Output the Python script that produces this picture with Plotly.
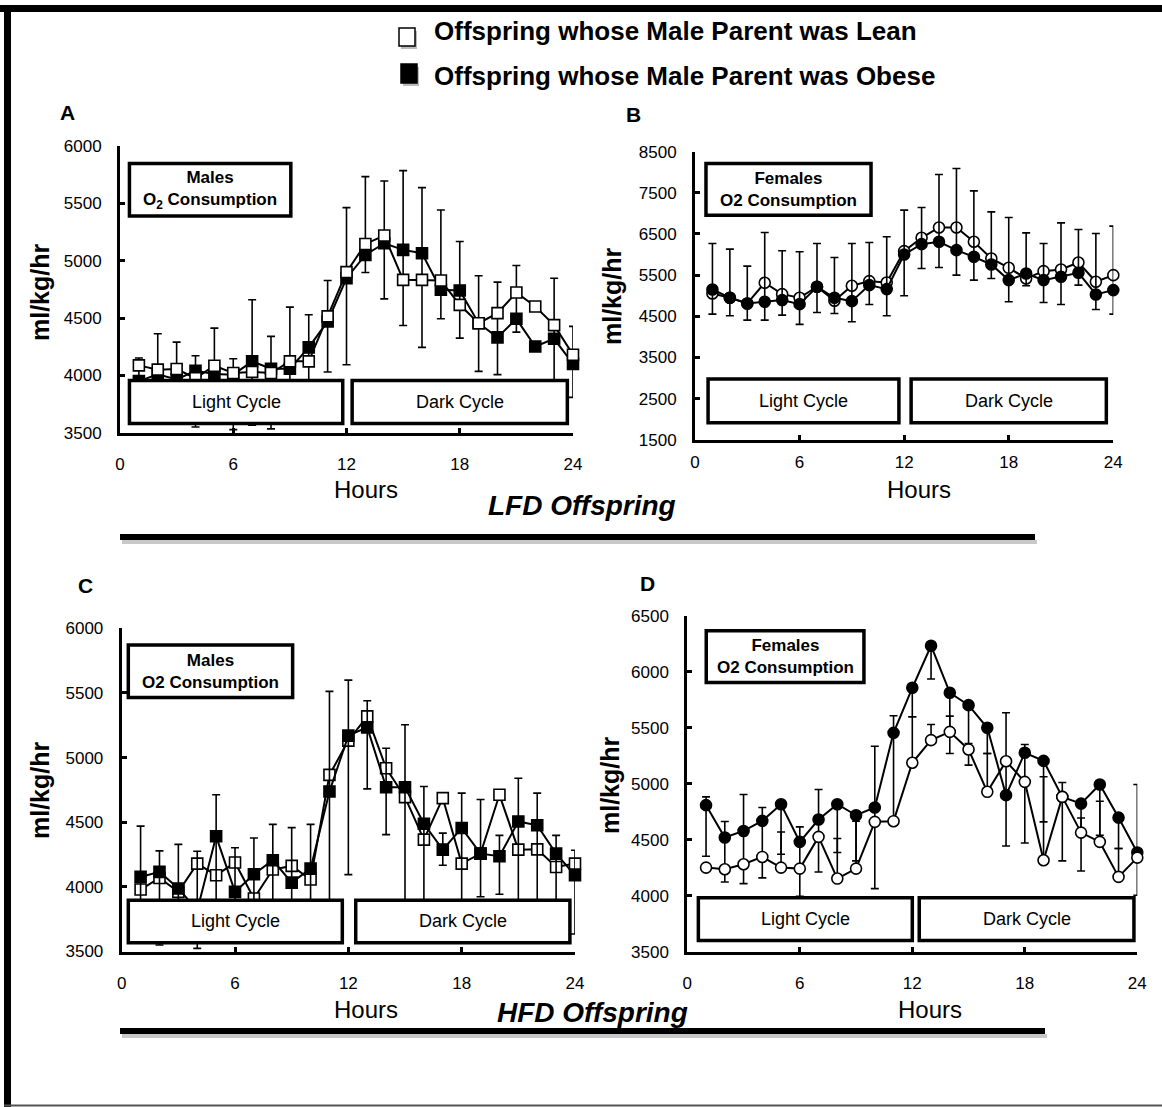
import plotly.graph_objects as go

W, H = 1162, 1107
FONT = "Liberation Sans"

# ---------------- data ----------------
hours = list(range(1, 25))
x_ticks = [0, 6, 12, 18, 24]

# Panel A: LFD males (squares)
lean_A = [4087, 4050, 4055, 3975, 4084, 4020, 4030, 4020, 4122, 4122, 4514, 4900,
          5146, 5219, 4833, 4833, 4827, 4615, 4455, 4543, 4722, 4601, 4438, 4180]
obese_A = [3950, 4010, 3965, 4040, 4012, 4006, 4122, 4058, 4058, 4244, 4470, 4847,
           5050, 5152, 5094, 5065, 4746, 4740, 4455, 4331, 4493, 4252, 4319, 4099]
obese_A_err_up = [201, 353, 325, 131, 400, 139, 537, 282, 537, 284, 357, 616,
                  683, 543, 691, 572, 696, 427, 413, 482, 465, 0, 528, 328]
obese_A_err_dn = [0, 100, 100, 490, 100, 479, 557, 525, 150, 300, 441, 754,
                  153, 485, 659, 821, 253, 415, 420, 325, 116, 0, 500, 291]

# Panel B: LFD females (circles)
lean_B = [5055, 4950, 4812, 5314, 5038, 4950, 5217, 4876, 5241, 5354, 5322, 6083,
          6407, 6658, 6658, 6310, 5905, 5678, 5419, 5597, 5638, 5808, 5338, 5500]
obese_B = [5152, 4950, 4812, 4852, 4893, 4795, 5217, 4950, 4868, 5257, 5160, 6002,
           6253, 6310, 6107, 5945, 5759, 5379, 5540, 5379, 5460, 5557, 5030, 5136]
obese_B_err_up = [1117, 1182, 907, 1684, 1198, 1272, 1052, 979, 1401, 1037, 1271, 1077,
                  891, 1635, 1984, 1604, 1279, 1522, 988, 890, 1311, 1052, 1482, 1554]
obese_B_err_dn = [599, 438, 405, 445, 365, 493, 624, 381, 502, 470, 648, 1004,
                  591, 624, 607, 566, 340, 527, 299, 543, 673, 300, 364, 583]

# Panel C: HFD males (squares)
lean_C = [3979, 4069, 3961, 4180, 4090, 4188, 3910, 4134, 4162, 4057, 4866, 5131,
          5319, 4918, 4694, 4365, 4686, 4180, 4257, 4712, 4288, 4290, 4154, 4180]
obese_C = [4077, 4116, 3987, 3820, 4391, 3961, 4098, 4206, 4033, 4141, 4738, 5170,
           5234, 4771, 4771, 4488, 4288, 4455, 4257, 4237, 4506, 4476, 4257, 4090]
obese_C_err_up = [393, 162, 342, 455, 321, 342, 280, 277, 425, 342, 774, 429,
                  206, 301, 483, 288, 128, 270, 419, 161, 334, 249, 141, 193]
obese_C_err_dn = [277, 566, 187, 296, 591, 161, 298, 406, 233, 341, 1038, 1075,
                  476, 367, 1071, 788, 121, 755, 334, 294, 706, 676, 457, 455]

# Panel D: HFD females (circles)
lean_D = [4253, 4238, 4283, 4348, 4253, 4244, 4527, 4155, 4244, 4661, 4667, 5188,
          5390, 5464, 5307, 4929, 5202, 5018, 4318, 4884, 4565, 4482, 4170, 4342]
obese_D = [4810, 4521, 4580, 4670, 4818, 4482, 4682, 4818, 4720, 4789, 5455, 5857,
           6232, 5813, 5702, 5500, 4899, 5277, 5205, 4884, 4824, 4994, 4699, 4387]
obese_D_err_up = [74, 143, 325, 119, 0, 134, 267, 0, 0, 547, 152, 0,
                  0, 0, 0, 0, 735, 74, 0, 128, 0, 0, 0, 607]
obese_D_err_dn = [456, 396, 470, 509, 446, 485, 468, 431, 407, 724, 788, 259,
                  297, 542, 535, 229, 453, 804, 544, 571, 601, 452, 276, 381]
lean_D_err_up = [0, 0, 0, 0, 318, 0, 0, 357, 423, 0, 0, 410,
                 140, 140, 53, 342, 0, 0, 745, 0, 131, 363, 253, 0]

legend_labels = ["Offspring whose Male Parent was Lean",
                 "Offspring whose Male Parent was Obese"]

# ---------------- layout helpers ----------------
def px(x):
    return x / W


def py(y):
    return 1 - y / H


panels = [
    dict(letter="A", lean=lean_A, obese=obese_A, up=obese_A_err_up, dn=obese_A_err_dn,
         lean_up=None, symbol="square", lean_on_top=True, xstand=14,
         xd=(120, 573), yd=(146, 432.7), yr=(3500, 6000), dtick=500,
         title="Males<br>O<sub>2</sub> Consumption",
         tbox=(0.5, 9.05, 5390, 5848), light=(0.5, 11.8, 3580, 3956), dark=(12.3, 23.7, 3580, 3956),
         letter_pos=(67, 112), ylab_pos=(40, 292), hours_pos=(366, 489)),
    dict(letter="B", lean=lean_B, obese=obese_B, up=obese_B_err_up, dn=obese_B_err_dn,
         lean_up=None, symbol="circle", lean_on_top=False, xstand=5,
         xd=(695, 1113.3), yd=(151.7, 439.7), yr=(1500, 8500), dtick=1000,
         title="Females<br>O2 Consumption",
         tbox=(0.63, 10.1, 6957, 8213), light=(0.75, 11.7, 1913, 2974), dark=(12.4, 23.6, 1913, 2974),
         letter_pos=(633, 114), ylab_pos=(612, 296), hours_pos=(919, 489)),
    dict(letter="C", lean=lean_C, obese=obese_C, up=obese_C_err_up, dn=obese_C_err_dn,
         lean_up=None, symbol="square", lean_on_top=False, xstand=14,
         xd=(121.7, 575), yd=(628.3, 951.5), yr=(3500, 6000), dtick=500,
         title="Males<br>O2 Consumption",
         tbox=(0.35, 9.05, 5465, 5871), light=(0.35, 11.68, 3568, 3897), dark=(12.39, 23.73, 3568, 3897),
         letter_pos=(85, 585), ylab_pos=(40, 790), hours_pos=(366, 1009)),
    dict(letter="D", lean=lean_D, obese=obese_D, up=obese_D_err_up, dn=obese_D_err_dn,
         lean_up=lean_D_err_up, symbol="circle", lean_on_top=True, xstand=14,
         xd=(687.3, 1137.3), yd=(615.7, 952), yr=(3500, 6500), dtick=500,
         title="Females<br>O2 Consumption",
         tbox=(1.01, 9.42, 5904, 6365), light=(0.59, 12.0, 3602, 3985), dark=(12.37, 23.82, 3602, 3985),
         letter_pos=(647, 583), ylab_pos=(610, 785), hours_pos=(930, 1009)),
]

fig = go.Figure()
shapes = []
annotations = []
layout = {}


def note(text, x, y, size, xanchor="center", ref=("paper", "paper"), **kw):
    annotations.append(dict(xref=ref[0], yref=ref[1], x=x, y=y, text=text, showarrow=False,
                            xanchor=xanchor, yanchor="middle",
                            font=dict(family=FONT, size=size, color="black"), **kw))


for i, p in enumerate(panels, start=1):
    xa = "x" if i == 1 else f"x{i}"
    ya = "y" if i == 1 else f"y{i}"
    layout["xaxis" if i == 1 else f"xaxis{i}"] = dict(
        domain=[px(p["xd"][0]), px(p["xd"][1])], range=[0, 24], anchor=ya, automargin=False,
        tickvals=x_ticks, ticks="inside", ticklen=5, tickwidth=2.5, tickcolor="black",
        showline=True, linewidth=3, linecolor="black", showgrid=False, zeroline=False,
        tickfont=dict(family=FONT, size=17, color="black"), ticklabelstandoff=p["xstand"])
    layout["yaxis" if i == 1 else f"yaxis{i}"] = dict(
        domain=[py(p["yd"][1]), py(p["yd"][0])], range=list(p["yr"]), anchor=xa, automargin=False,
        dtick=p["dtick"], tick0=p["yr"][0], ticks="inside", ticklen=5, tickwidth=2.5,
        tickcolor="black", showline=True, linewidth=3, linecolor="black",
        showgrid=False, zeroline=False, tickformat="d",
        tickfont=dict(family=FONT, size=17, color="black"), ticklabelstandoff=12)

    lean_tr = go.Scatter(
        x=hours, y=p["lean"], mode="lines+markers", xaxis=xa, yaxis=ya,
        line=dict(color="black", width=2), cliponaxis=False, name=legend_labels[0],
        marker=dict(symbol=p["symbol"], size=11, color="white", line=dict(color="black", width=1.6)))
    if p["lean_up"] is not None:
        lean_tr.error_y = dict(type="data", symmetric=False, array=p["lean_up"],
                               arrayminus=[0] * len(hours), color="black", thickness=1.6, width=4)
    obese_tr = go.Scatter(
        x=hours, y=p["obese"], mode="lines+markers", xaxis=xa, yaxis=ya,
        line=dict(color="black", width=2), cliponaxis=False, name=legend_labels[1],
        marker=dict(symbol=p["symbol"], size=11, color="black", line=dict(color="black", width=1.6)),
        error_y=dict(type="data", symmetric=False, array=p["up"], arrayminus=p["dn"],
                     color="black", thickness=1.6, width=4))
    if p["lean_on_top"]:
        fig.add_trace(obese_tr)
        fig.add_trace(lean_tr)
    else:
        fig.add_trace(lean_tr)
        fig.add_trace(obese_tr)

    # boxes
    for key, txt, bold in (("tbox", p["title"], True), ("light", "Light Cycle", False),
                           ("dark", "Dark Cycle", False)):
        x0, x1, y0, y1 = p[key]
        shapes.append(dict(type="rect", xref=xa, yref=ya, x0=x0, x1=x1, y0=y0, y1=y1,
                           fillcolor="white", line=dict(color="black", width=3.5), layer="above"))
        note(f"<b>{txt}</b>" if bold else txt, (x0 + x1) / 2, (y0 + y1) / 2,
             17 if bold else 18, ref=(xa, ya), align="center")

    # panel letter, y label, x label
    lx, ly = p["letter_pos"]
    note(f"<b>{p['letter']}</b>", px(lx), py(ly), 21)
    yx, yy = p["ylab_pos"]
    note("<b>ml/kg/hr</b>", px(yx), py(yy), 25, textangle=-90)
    hx, hy = p["hours_pos"]
    note("Hours", px(hx), py(hy), 24)

# section titles and underlines
for label, (tx, ty), (lx0, lx1, ly) in (("LFD Offspring", (582, 505), (120, 1035, 537)),
                                        ("HFD Offspring", (592, 1013), (120, 1045, 1031))):
    note(f"<b><i>{label}</i></b>", px(tx), py(ty), 28)
    shapes.append(dict(type="line", xref="paper", yref="paper", x0=px(lx0 + 2), x1=px(lx1 + 2),
                       y0=py(ly + 5), y1=py(ly + 5), line=dict(color="#c8c8c8", width=4)))
    shapes.append(dict(type="line", xref="paper", yref="paper", x0=px(lx0), x1=px(lx1),
                       y0=py(ly), y1=py(ly), line=dict(color="black", width=6)))

# legend at top
for (sx0, sy0, sx1, sy1), fill, (tx, ty), label in (
        ((399, 28, 415, 46), "white", (432, 31), legend_labels[0]),
        ((401, 64, 417, 83), "black", (432, 76), legend_labels[1])):
    shapes.append(dict(type="rect", xref="paper", yref="paper", x0=px(sx0 + 2), x1=px(sx1 + 2),
                       y0=py(sy1 + 3), y1=py(sy0 + 3), fillcolor="#bbbbbb", line=dict(width=0)))
    shapes.append(dict(type="rect", xref="paper", yref="paper", x0=px(sx0), x1=px(sx1),
                       y0=py(sy1), y1=py(sy0), fillcolor=fill, line=dict(color="black", width=1.5)))
    note(f"<b>{label}</b>", px(tx), py(ty), 26, xanchor="left")

# outer frame
shapes.append(dict(type="line", xref="paper", yref="paper", x0=0, x1=1, y0=py(8.5), y1=py(8.5),
                   line=dict(color="black", width=7)))
shapes.append(dict(type="line", xref="paper", yref="paper", x0=px(7.5), x1=px(7.5), y0=0, y1=py(5),
                   line=dict(color="black", width=7)))
shapes.append(dict(type="line", xref="paper", yref="paper", x0=px(4), x1=1, y0=py(1105.5), y1=py(1105.5),
                   line=dict(color="#555555", width=2)))

fig.update_layout(width=W, height=H, margin=dict(l=0, r=0, t=0, b=0, autoexpand=False),
                  paper_bgcolor="white", plot_bgcolor="white", showlegend=False,
                  shapes=shapes, annotations=annotations, **layout)

fig.write_html("out.html", config={"displayModeBar": False},
               post_script="document.body.style.margin='0';document.body.style.padding='0';")
